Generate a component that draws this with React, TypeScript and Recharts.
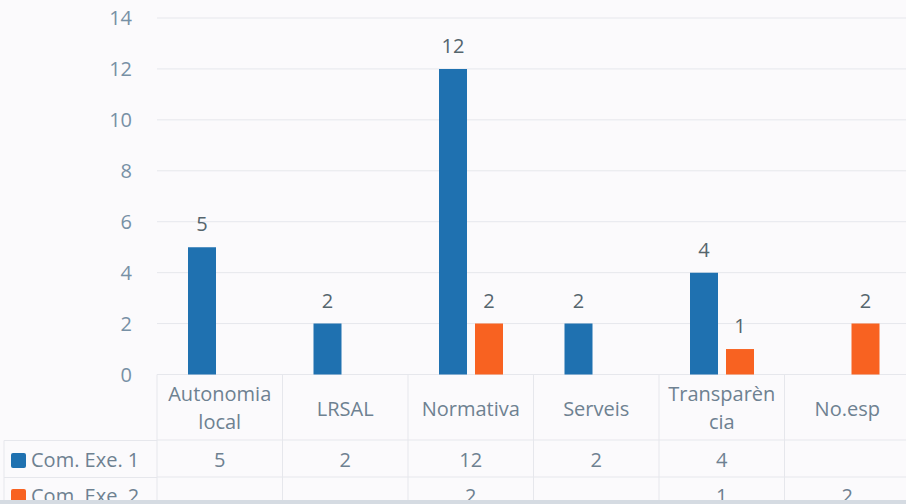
import React from "react";
import { Bar, BarChart, CartesianGrid, LabelList, Legend, XAxis, YAxis } from "recharts";

const categories = ["Autonomia local", "LRSAL", "Normativa", "Serveis", "Transparència", "No.esp"];
const categoryLines = [["Autonomia", "local"], ["LRSAL"], ["Normativa"], ["Serveis"], ["Transparèn", "cia"], ["No.esp"]];
const seriesNames = ["Com. Exe. 1", "Com. Exe. 2"];
const exe1 = [5, 2, 12, 2, 4, null];
const exe2 = [null, null, 2, null, 1, 2];
const yTicks = [0, 2, 4, 6, 8, 10, 12, 14];

const data = categories.map((category, i) => ({ category, exe1: exe1[i], exe2: exe2[i] }));

const CHART_W = 910;
const CHART_H = 504;
const AXIS_W = 157;
const BAND = (CHART_W - AXIS_W) / categories.length;
const FONT = "'Open Sans', sans-serif";
const TEXT = "#6e8191";
const LINE = "#e6e7ec";
const COLORS = ["#1f71b0", "#f86221"];

const TableTick = ({ x, y, payload, index }: any) => {
  const lines = categoryLines[index] ?? [payload.value];
  const left = x - BAND / 2;
  const v1 = exe1[index];
  const v2 = exe2[index];
  return (
    <g fontFamily={FONT} fontSize={20} fill={TEXT}>
      <line x1={left} y1={y} x2={left} y2={y + 140} stroke={LINE} />
      <line x1={left} y1={y + 65.5} x2={left + BAND} y2={y + 65.5} stroke={LINE} />
      <line x1={left} y1={y + 102.5} x2={left + BAND} y2={y + 102.5} stroke={LINE} />
      {lines.length === 2 ? (
        <>
          <text x={x} y={y + 26.5} textAnchor="middle">{lines[0]}</text>
          <text x={x} y={y + 54.5} textAnchor="middle">{lines[1]}</text>
        </>
      ) : (
        <text x={x} y={y + 41.5} textAnchor="middle">{lines[0]}</text>
      )}
      {v1 != null && <text x={x} y={y + 92.5} textAnchor="middle">{v1}</text>}
      {v2 != null && <text x={x} y={y + 128.5} textAnchor="middle">{v2}</text>}
    </g>
  );
};

const TableLegend = () => (
  <svg width={AXIS_W} height={130} style={{ display: "block" }}>
    <line x1={4} y1={65.5} x2={AXIS_W} y2={65.5} stroke={LINE} />
    <line x1={4} y1={102.5} x2={AXIS_W} y2={102.5} stroke={LINE} />
    <line x1={4} y1={65.5} x2={4} y2={130} stroke={LINE} />
    {seriesNames.map((name, i) => (
      <g key={name}>
        <rect x={11} y={78 + i * 36} width={15} height={15} rx={2} fill={COLORS[i]} />
        <text x={31} y={92 + i * 36} fontFamily={FONT} fontSize={20} fill={TEXT}>{name}</text>
      </g>
    ))}
  </svg>
);

export default function App() {
  return (
    <div style={{ position: "absolute", left: 0, top: 0, width: 906, height: 504, overflow: "hidden", background: "#fbfafc" }}>
      <BarChart
        width={CHART_W}
        height={CHART_H}
        data={data}
        margin={{ top: 18, right: 0, bottom: 0, left: 0 }}
        barSize={28}
        barGap={8}
      >
        <CartesianGrid vertical={false} stroke={LINE} />
        <XAxis
          dataKey="category"
          height={129.5}
          axisLine={false}
          tickLine={false}
          tickSize={0}
          tickMargin={0}
          interval={0}
          tick={<TableTick />}
        />
        <YAxis
          width={AXIS_W}
          domain={[0, 14]}
          ticks={yTicks}
          axisLine={false}
          tickLine={false}
          tickSize={0}
          tickMargin={25}
          tick={{ fill: "#7790a5", fontSize: 20, fontFamily: FONT }}
        />
        <Legend
          layout="vertical"
          align="center"
          verticalAlign="middle"
          wrapperStyle={{ left: 0, top: 374.5, width: AXIS_W, height: 130 }}
          content={<TableLegend />}
        />
        <Bar dataKey="exe1" name={seriesNames[0]} fill={COLORS[0]} isAnimationActive={false}>
          <LabelList dataKey="exe1" position="top" offset={16} fill="#55656d" fontSize={20} fontFamily={FONT} />
        </Bar>
        <Bar dataKey="exe2" name={seriesNames[1]} fill={COLORS[1]} isAnimationActive={false}>
          <LabelList dataKey="exe2" position="top" offset={16} fill="#55656d" fontSize={20} fontFamily={FONT} />
        </Bar>
      </BarChart>
      <div style={{ position: "absolute", left: 0, top: 500, width: 906, height: 4, background: "#d5dbe2" }} />
    </div>
  );
}
